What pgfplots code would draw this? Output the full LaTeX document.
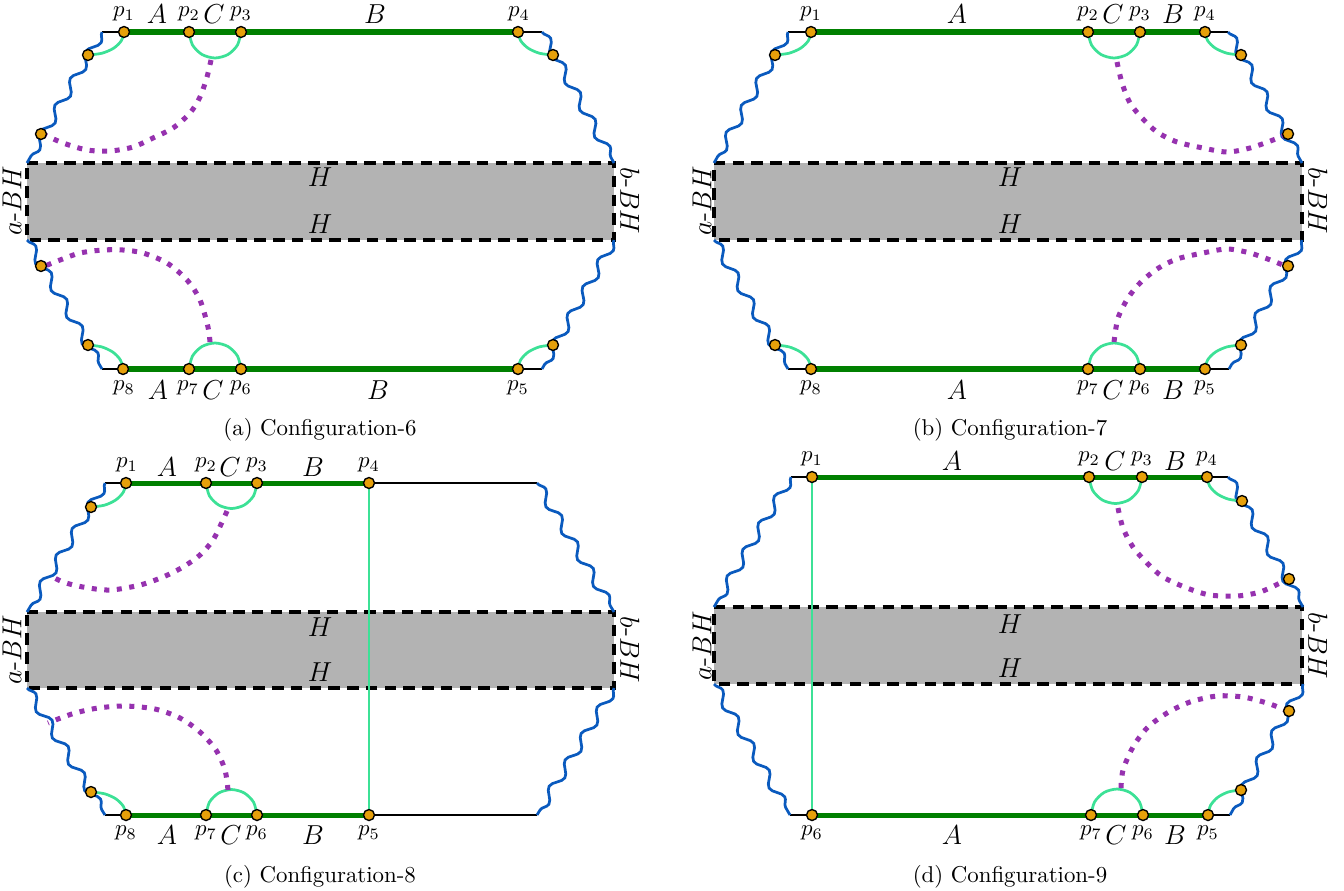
\documentclass[border=0pt]{standalone}
\usepackage{pgfplots}
\pgfplotsset{compat=1.18}
\usetikzlibrary{decorations.pathmorphing}
\definecolor{dgreen}{RGB}{0,128,0}
\definecolor{lgreen}{RGB}{60,225,150}
\definecolor{wblue}{RGB}{10,90,190}
\definecolor{dpurple}{RGB}{150,50,175}
\definecolor{dorange}{RGB}{230,160,10}
\definecolor{bgray}{RGB}{179,179,179}
\pgfplotsset{
  gthick/.style={draw=dgreen, line width=2.2pt},
  gthin/.style={draw=lgreen, line width=1.2pt, smooth},
  bline/.style={draw=black, line width=1.1pt},
  wavy/.style={draw=wblue, line width=1.2pt, decorate, decoration={snake, amplitude=2pt, segment length=13.5pt}},
  pdot/.style={draw=dpurple, line width=2.2pt, dash pattern=on 2.2pt off 3.3pt, smooth},
  hrect/.style={fill=bgray, draw=black, line width=1.5pt, dash pattern=on 5pt off 3.2pt},
  odots/.style={only marks, mark=*, mark size=2.4pt, mark options={fill=dorange, draw=black, line width=0.6pt}},
}
\begin{document}
\begin{tikzpicture}
\begin{axis}[width=588pt, height=389.4pt, scale only axis, xmin=0, xmax=1344, ymin=0, ymax=890, y dir=reverse, hide axis, clip=false]
\addplot[draw=none] coordinates {(0,0) (1344,890)};
% ---------- rectangles
\addplot[hrect] coordinates {(27,163) (614,163) (614,240) (27,240)} -- cycle;
\addplot[hrect] coordinates {(714,163) (1302,163) (1302,240) (714,240)} -- cycle;
\addplot[hrect] coordinates {(27,612) (614,612) (614,688) (27,688)} -- cycle;
\addplot[hrect] coordinates {(714,607) (1302,607) (1302,684) (714,684)} -- cycle;
% ---------- vertical light green lines
\addplot[draw=lgreen, line width=1.2pt] coordinates {(369,483) (369,815)};
\addplot[draw=lgreen, line width=1.2pt] coordinates {(812,477) (812,815)};
% ---------- black segments
\addplot[bline] coordinates {(102,32) (124,32)};
\addplot[bline] coordinates {(518,32) (542,32)};
\addplot[bline] coordinates {(102,369) (123,369)};
\addplot[bline] coordinates {(518,369) (542,369)};
\addplot[bline] coordinates {(788,32) (811,32)};
\addplot[bline] coordinates {(1205,32) (1228,32)};
\addplot[bline] coordinates {(788,369) (811,369)};
\addplot[bline] coordinates {(1205,369) (1229,369)};
\addplot[bline] coordinates {(105,483) (126,483)};
\addplot[bline] coordinates {(369,483) (537,483)};
\addplot[bline] coordinates {(105,815) (126,815)};
\addplot[bline] coordinates {(369,815) (537,815)};
\addplot[bline] coordinates {(791,477) (812,477)};
\addplot[bline] coordinates {(1207,477) (1228,477)};
\addplot[bline] coordinates {(790,815) (812,815)};
\addplot[bline] coordinates {(1208,815) (1230,815)};
% ---------- wavy lines
\addplot[wavy] coordinates {(102,32) (27,163)};
\addplot[wavy] coordinates {(542,32) (614,163)};
\addplot[wavy] coordinates {(27,240) (102,369)};
\addplot[wavy] coordinates {(614,240) (542,369)};
\addplot[wavy] coordinates {(788,32) (714,163)};
\addplot[wavy] coordinates {(1228,32) (1302,163)};
\addplot[wavy] coordinates {(714,240) (788,369)};
\addplot[wavy] coordinates {(1302,240) (1229,369)};
\addplot[wavy] coordinates {(105,483) (27,612)};
\addplot[wavy] coordinates {(537,483) (614,612)};
\addplot[wavy] coordinates {(27,688) (105,815)};
\addplot[wavy] coordinates {(614,688) (537,815)};
\addplot[wavy] coordinates {(791,477) (714,607)};
\addplot[wavy] coordinates {(1228,477) (1303,607)};
\addplot[wavy] coordinates {(714,684) (790,815)};
\addplot[wavy] coordinates {(1303,684) (1230,815)};
% ---------- light green arcs
% (a)
\addplot[gthin] coordinates {(124,32) (121.3,40.8) (113.5,48.3) (101.8,53.3) (88,55)};
\addplot[gthin] coordinates {(518,32) (520.7,40.8) (528.3,48.3) (539.6,53.3) (553,55)};
\addplot[gthin] coordinates {(123,369) (120.3,359.8) (112.7,352) (101.4,346.8) (88,345)};
\addplot[gthin] coordinates {(518,369) (520.7,359.8) (528.3,352) (539.6,346.8) (553,345)};
\addplot[gthin] coordinates {(189,32) (192.5,45) (202,54.5) (215,58) (228,54.5) (237.5,45) (241,32)};
\addplot[gthin] coordinates {(189,369) (192.5,356) (202,346.5) (215,343) (228,346.5) (237.5,356) (241,369)};
% (b)
\addplot[gthin] coordinates {(811,32) (808.3,40.8) (800.5,48.3) (788.8,53.3) (775,55)};
\addplot[gthin] coordinates {(1205,32) (1207.7,40.8) (1215.5,48.3) (1227.2,53.3) (1241,55)};
\addplot[gthin] coordinates {(811,369) (808.3,359.8) (800.5,352) (788.8,346.8) (775,345)};
\addplot[gthin] coordinates {(1205,369) (1207.7,359.8) (1215.5,352) (1227.2,346.8) (1241,345)};
\addplot[gthin] coordinates {(1088,32) (1091.5,45) (1101,54.5) (1114,58) (1127,54.5) (1136.5,45) (1140,32)};
\addplot[gthin] coordinates {(1088,369) (1091.5,356) (1101,346.5) (1114,343) (1127,346.5) (1136.5,356) (1140,369)};
% (c)
\addplot[gthin] coordinates {(126,483) (123.3,492.2) (115.7,500) (104.4,505.2) (91,507)};
\addplot[gthin] coordinates {(206,483) (209.4,495.8) (218.8,505.1) (231.5,508.5) (244.2,505.1) (253.6,495.8) (257,483)};
\addplot[gthin] coordinates {(126,815) (123.3,806.2) (115.7,798.7) (104.4,793.7) (91,792)};
\addplot[gthin] coordinates {(206,815) (209.4,802.2) (218.8,792.9) (231.5,789.5) (244.2,792.9) (253.6,802.2) (257,815)};
% (d)
\addplot[gthin] coordinates {(1207,477) (1209.7,486.2) (1217.3,494) (1228.6,499.2) (1242,501)};
\addplot[gthin] coordinates {(1089,477) (1092.6,490.3) (1102.3,500) (1115.5,503.5) (1128.8,500) (1138.4,490.3) (1142,477)};
\addplot[gthin] coordinates {(1208,815) (1210.5,805.4) (1217.7,797.3) (1228.4,791.9) (1241,790)};
\addplot[gthin] coordinates {(1091,815) (1094.5,802) (1104,792.5) (1117,789) (1130,792.5) (1139.5,802) (1143,815)};
% ---------- purple dotted curves
\addplot[pdot] coordinates {(211,60) (207,77) (200,97) (190,113) (173,128) (153,138) (133,147) (110,151) (87,150) (63,143) (45,135)};
\addplot[pdot] coordinates {(210,342) (208,327) (200,300) (187,280) (167,263) (143,253) (123,250) (103,250) (80,253) (60,260) (45,266)};
\addplot[pdot] coordinates {(1117,62) (1122,83) (1130,103) (1142,118) (1157,132) (1177,142) (1203,148) (1227,152) (1250,148) (1273,140) (1285,135)};
\addplot[pdot] coordinates {(1114,342) (1118,318) (1128,298) (1140,283) (1157,269) (1177,259) (1203,253) (1227,249) (1250,253) (1273,261) (1285,266)};
\addplot[pdot] coordinates {(227,511) (223,520) (213,540) (200,555) (183,567) (163,577) (140,585) (110,590) (83,587) (63,582) (49,575)};
\addplot[pdot] coordinates {(228,790) (225,770) (216,750) (200,732) (180,718) (155,709) (125,706) (98,708) (75,713) (58,719) (48,723)};
\addplot[pdot] coordinates {(1118,508) (1123,528) (1133,547) (1147,563) (1163,577) (1187,588) (1210,595) (1237,596) (1260,592) (1280,583) (1287,580)};
\addplot[pdot] coordinates {(1121,788) (1123,770) (1133,747) (1147,728) (1167,713) (1190,702) (1217,696) (1243,697) (1267,703) (1283,709) (1287,711)};
% ---------- (d) dots under lines
\addplot[odots] coordinates {(812,477) (812,815)};
% ---------- thick green lines
\addplot[gthick] coordinates {(124,32) (518,32)};
\addplot[gthick] coordinates {(123,369) (518,369)};
\addplot[gthick] coordinates {(811,32) (1205,32)};
\addplot[gthick] coordinates {(811,369) (1205,369)};
\addplot[gthick] coordinates {(126,483) (369,483)};
\addplot[gthick] coordinates {(126,815) (369,815)};
\addplot[gthick] coordinates {(812,477) (1207,477)};
\addplot[gthick] coordinates {(812,815) (1208,815)};
\addplot[draw=lgreen, line width=1.2pt] coordinates {(812,477) (812,815)};
% ---------- dots
\addplot[odots] coordinates {(124,32) (189,32) (241,32) (518,32) (88,55) (41,134) (553,55) (123,369) (189,369) (241,369) (518,369) (88,345) (41,266) (553,345)};
\addplot[odots] coordinates {(811,32) (1088,32) (1140,32) (1205,32) (775,55) (1241,55) (1288,134) (811,369) (1088,369) (1140,369) (1205,369) (775,345) (1241,345) (1288,266)};
\addplot[odots] coordinates {(126,483) (206,483) (257,483) (369,483) (91,507) (126,815) (206,815) (257,815) (369,815) (91,792)};
\addplot[odots] coordinates {(1089,477) (1142,477) (1207,477) (1242,501) (1289,579) (1091,815) (1143,815) (1208,815) (1241,790) (1289,711)};
% ---------- labels (a)
\node at (124,14) {$p_1$}; \node at (157,14) {\large $A$}; \node at (189,14) {$p_2$}; \node at (214,14) {\large $C$}; \node at (241,14) {$p_3$}; \node at (375,14) {\large $B$}; \node at (519,14) {$p_4$};
\node at (124,388) {$p_8$}; \node at (158,390) {\large $A$}; \node at (188,388) {$p_7$}; \node at (213,390) {\large $C$}; \node at (241,388) {$p_6$}; \node at (378,390) {\large $B$}; \node at (518,388) {$p_5$};
\node at (320,177) {\large $H$}; \node at (320,224) {\large $H$};
\node[rotate=90] at (12,201) {\large $a$-$BH$}; \node[rotate=-90] at (630,201) {\large $b$-$BH$};
\node at (320,430) {(a) Configuration-6};
% ---------- labels (b)
\node at (811,14) {$p_1$}; \node at (957,14) {\large $A$}; \node at (1088,14) {$p_2$}; \node at (1113,14) {\large $C$}; \node at (1140,14) {$p_3$}; \node at (1173,14) {\large $B$}; \node at (1205,14) {$p_4$};
\node at (811,388) {$p_8$}; \node at (957,390) {\large $A$}; \node at (1088,388) {$p_7$}; \node at (1113,390) {\large $C$}; \node at (1140,388) {$p_6$}; \node at (1173,390) {\large $B$}; \node at (1205,388) {$p_5$};
\node at (1010,177) {\large $H$}; \node at (1010,224) {\large $H$};
\node[rotate=90] at (702,201) {\large $a$-$BH$}; \node[rotate=-90] at (1318,201) {\large $b$-$BH$};
\node at (1010,430) {(b) Configuration-7};
% ---------- labels (c)
\node at (127,465) {$p_1$}; \node at (167,467) {\large $A$}; \node at (206,465) {$p_2$}; \node at (230,467) {\large $C$}; \node at (257,465) {$p_3$}; \node at (313,467) {\large $B$}; \node at (369,465) {$p_4$};
\node at (126,833) {$p_8$}; \node at (167,835) {\large $A$}; \node at (206,833) {$p_7$}; \node at (231,835) {\large $C$}; \node at (257,833) {$p_6$}; \node at (313,835) {\large $B$}; \node at (369,833) {$p_5$};
\node at (320,627) {\large $H$}; \node at (320,672) {\large $H$};
\node[rotate=90] at (12,650) {\large $a$-$BH$}; \node[rotate=-90] at (630,650) {\large $b$-$BH$};
\node at (320,877) {(c) Configuration-8};
% ---------- labels (d)
\node at (812,459) {$p_1$}; \node at (952,461) {\large $A$}; \node at (1089,459) {$p_2$}; \node at (1115,461) {\large $C$}; \node at (1142,459) {$p_3$}; \node at (1175,461) {\large $B$}; \node at (1207,459) {$p_4$};
\node at (812,833) {$p_6$}; \node at (952,835) {\large $A$}; \node at (1091,833) {$p_7$}; \node at (1116,835) {\large $C$}; \node at (1143,833) {$p_6$}; \node at (1175,835) {\large $B$}; \node at (1208,833) {$p_5$};
\node at (1010,624) {\large $H$}; \node at (1010,668) {\large $H$};
\node[rotate=90] at (702,646) {\large $a$-$BH$}; \node[rotate=-90] at (1318,646) {\large $b$-$BH$};
\node at (1010,877) {(d) Configuration-9};
\end{axis}
\pgfresetboundingbox
\path (current axis.south west) rectangle (current axis.north east);
\end{tikzpicture}
\end{document}
